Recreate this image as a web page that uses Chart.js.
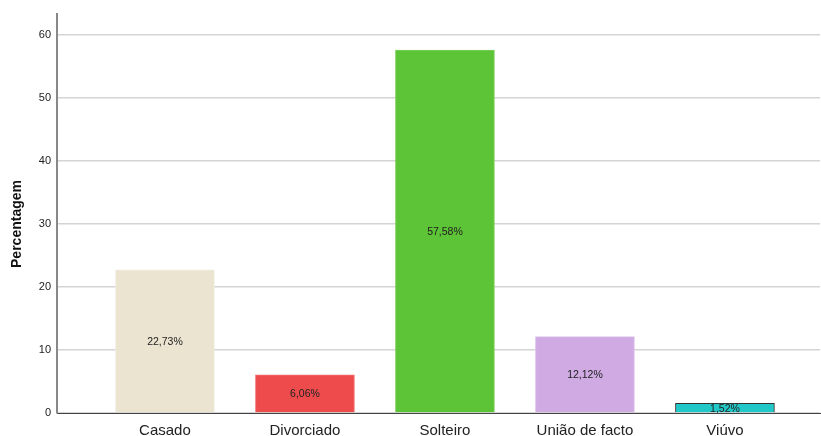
<!DOCTYPE html>
<html>
<head>
<meta charset="utf-8">
<script src="https://cdn.jsdelivr.net/npm/chart.js@4/dist/chart.umd.min.js"></script>
<style>
  html, body { margin: 0; padding: 0; background: #fff; }
  #wrap { width: 821px; height: 436px; }
</style>
</head>
<body>
<div id="wrap"><canvas id="chart" width="821" height="436"></canvas></div>
<script>
// ── Data ─────────────────────────────────────────────
const categories = ['Casado', 'Divorciado', 'Solteiro', 'União de facto', 'Viúvo'];
const percentages = [22.73, 6.06, 57.58, 12.12, 1.52];
const pctLabels = ['22,73%', '6,06%', '57,58%', '12,12%', '1,52%'];
const yTicks = [0, 10, 20, 30, 40, 50, 60];
const yTitle = 'Percentagem';

// ── Styles ───────────────────────────────────────────
const barColors   = ['#EAE4D0', '#EE4B4D', '#5DC337', '#CFAAE3', '#22C8C8'];
const barBorders  = ['#F2EEE2', '#F07070', '#7AD05A', '#DCC0EA', '#333333'];
const FONT = "'Liberation Sans', Arial, sans-serif";

// values drawn inside each bar + y title placed like the original
const barLabelPlugin = {
    id: 'barLabels',
    afterDatasetsDraw(chart) {
        const ctx = chart.ctx;
        const meta = chart.getDatasetMeta(0);
        ctx.save();
        ctx.font = '10.5px ' + FONT;
        ctx.fillStyle = '#222';
        ctx.textAlign = 'center';
        ctx.textBaseline = 'middle';
        meta.data.forEach((bar, i) => {
            const mid = (bar.y + bar.base) / 2;
            ctx.fillText(pctLabels[i], bar.x, mid + 1);
        });

        // rotated axis title
        ctx.translate(17, 224);
        ctx.rotate(-Math.PI / 2);
        ctx.font = 'bold 14px ' + FONT;
        ctx.fillStyle = '#111';
        ctx.fillText(yTitle, 0, 0);
        ctx.restore();
    }
};

new Chart(document.getElementById('chart'), {
    type: 'bar',
    data: {
        datasets: [{
            data: percentages.map((v, i) => ({ x: i, y: v })),
            backgroundColor: barColors,
            borderColor: barBorders,
            borderWidth: 1,
            borderSkipped: 'bottom',
            barThickness: 99
        }]
    },
    options: {
        responsive: false,
        animation: false,
        events: [],
        layout: { padding: { top: 14, right: 1, left: 0, bottom: 0 } },
        plugins: { legend: { display: false }, tooltip: { enabled: false } },
        scales: {
            x: {
                type: 'linear',
                offset: false,
                min: -0.771,
                max: 4.679,
                grid: { display: false, drawTicks: false, offset: false },
                border: { color: '#444', width: 1 },
                afterBuildTicks: s => { s.ticks = categories.map((_, i) => ({ value: i })); },
                afterFit: s => { s.height = 23; },
                ticks: {
                    autoSkip: false,
                    maxRotation: 0,
                    padding: 9,
                    color: '#222',
                    font: { family: FONT, size: 15 },
                    callback: v => categories[v] ?? ''
                }
            },
            y: {
                min: 0,
                max: 63.3,
                grid: { color: '#D4D4D4', lineWidth: 1.5, drawTicks: false },
                border: { color: '#888', width: 2 },
                afterBuildTicks: s => { s.ticks = yTicks.map(v => ({ value: v })); },
                afterFit: s => { s.width = 57; },
                ticks: {
                    padding: 6,
                    color: '#222',
                    font: { family: FONT, size: 11 }
                }
            }
        }
    },
    plugins: [barLabelPlugin]
});
</script>
</body>
</html>
